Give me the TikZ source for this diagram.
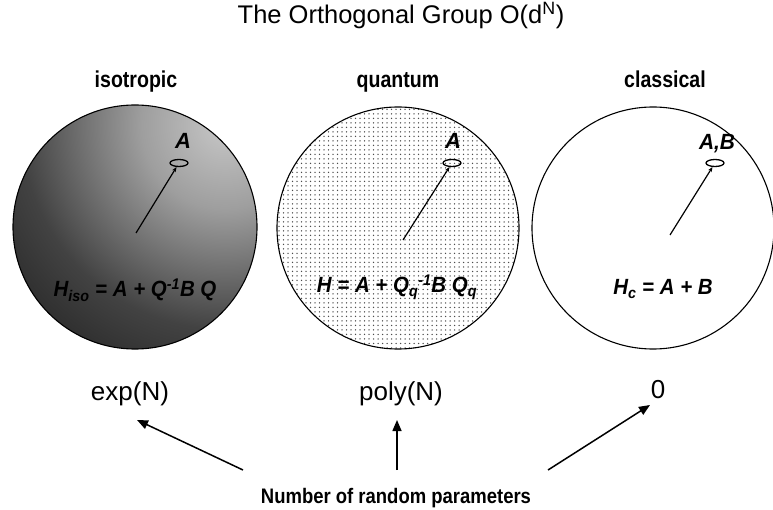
\documentclass[tikz,border=0pt]{standalone}
\usepackage{graphicx}
\usepackage{fontspec}
\setmainfont{Liberation Sans}
\usetikzlibrary{patterns.meta,arrows.meta,shapes.geometric}

\pgfdeclareradialshading{isoshade}{\pgfpoint{0bp}{0bp}}{color(0bp)=(black!22); color(7bp)=(black!38); color(17bp)=(black!74); color(27bp)=(black!90); color(50bp)=(black!96)}
\newcommand{\narrowed}[2][0.85]{\scalebox{#1}[1]{#2}}

\begin{document}
\begin{tikzpicture}[x=1pt,y=-1pt,
  ring/.style={draw=black, line width=1.1pt},
  blob/.style={draw, ellipse, line width=1.3pt, minimum width=18pt, minimum height=7pt, inner sep=0pt},
  ptr/.style={line width=1.2pt, -{Stealth[length=5pt,width=4pt]}},
  bigarrow/.style={line width=1.5pt, -{Triangle[length=11pt,width=9pt]}},
  ttl/.style={font=\fontsize{25.5}{28}\selectfont, anchor=base, inner sep=0pt},
  cat/.style={font=\bfseries\fontsize{23}{26}\selectfont, anchor=base, inner sep=0pt},
  countlbl/.style={font=\fontsize{26}{30}\selectfont, anchor=base, inner sep=0pt},
  formula/.style={font=\bfseries\itshape\fontsize{22}{24}\selectfont, anchor=base, inner sep=0pt},
  lab/.style={font=\bfseries\itshape\fontsize{22}{24}\selectfont, anchor=base, inner sep=0pt},
]
\useasboundingbox (0,0) rectangle (773,510);
\fill[white] (0,0) rectangle (773,510);

% isotropic circle
\begin{scope}
  \clip (135,227) circle[radius=122pt];
  \shade[shading=isoshade] (225,125) circle[radius=300pt];
\end{scope}
\draw[ring] (135,227) circle[radius=122pt];

% quantum circle
\fill[white] (398,228) circle[radius=121pt];
\fill[pattern={Dots[distance=4.5pt,radius=0.75pt]}, pattern color=black!70] (398,228) circle[radius=121pt];
\draw[ring] (398,228) circle[radius=121pt];

% classical circle
\draw[ring] (653,228) circle[radius=121pt];

% small ellipses and pointers
\node[blob] (ea) at (179,163) {};
\node[blob] (eb) at (452,163) {};
\node[blob] (ec) at (715,163) {};
\coordinate (pa) at (136,233);
\coordinate (pb) at (403,240);
\coordinate (pc) at (670,235);
\draw[ptr] (pa) -- (ea);
\draw[ptr] (pb) -- (eb);
\draw[ptr] (pc) -- (ec);

\node[lab] (la) at (183,149) {A};
\node[lab] (lb) at (453,149) {A};
\node[lab] (lc) at (717,150) {\narrowed[0.95]{A,B}};

% formulas
\node[formula] (fa) at (135,297) {\narrowed[0.93]{H\textsubscript{iso} = A + Q\textsuperscript{-1}B Q}};
\node[formula] (fb) at (397,293) {\narrowed[0.93]{H = A + Q\textsubscript{q}\textsuperscript{-1}B Q\textsubscript{q}}};
\node[formula] (fc) at (663,295) {\narrowed[0.93]{H\textsubscript{c} = A + B}};

% headings
\node[ttl] (t) at (401,24) {The Orthogonal Group O(d\textsuperscript{N})};
\node[cat] (iso) at (136,88) {\narrowed{isotropic}};
\node[cat] (qua) at (398,88) {\narrowed{quantum}};
\node[cat] (cla) at (665,88) {\narrowed{classical}};

% counts
\node[countlbl] (ex) at (130,400) {exp(N)};
\node[countlbl] (po) at (401,400) {poly(N)};
\node[countlbl] (ze) at (658,398) {0};

\node[cat, font=\bfseries\fontsize{21}{24}\selectfont] (np) at (396,503) {\narrowed[0.88]{Number of random parameters}};

\coordinate (ta) at (243,470);
\coordinate (tb) at (397,470);
\coordinate (tc) at (548,470);
\coordinate (ha) at (137,420);
\coordinate (hb) at (397,420);
\coordinate (hc) at (650,405);
\draw[bigarrow] (ta) -- (ha);
\draw[bigarrow] (tb) -- (hb);
\draw[bigarrow] (tc) -- (hc);
\end{tikzpicture}
\end{document}
